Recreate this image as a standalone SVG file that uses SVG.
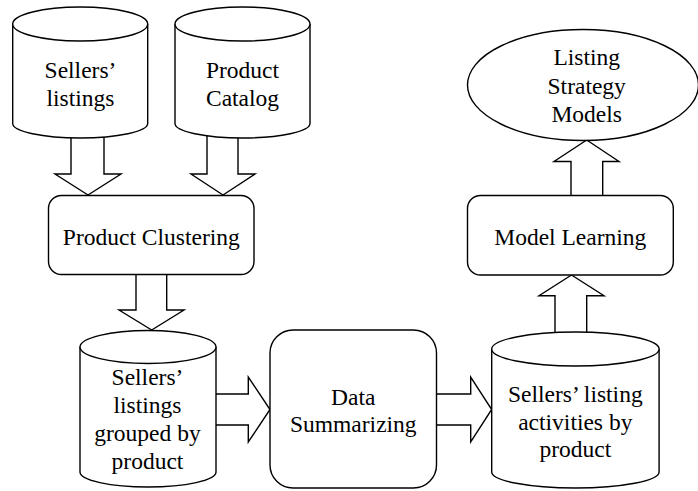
<svg xmlns="http://www.w3.org/2000/svg" width="698" height="491" viewBox="0 0 698 491">
  <style>
    .shape { fill: #ffffff; stroke: #000000; stroke-width: 1.4; stroke-linejoin: miter; }
    .label { font-family: "Liberation Serif", "Times New Roman", serif; font-size: 23.5px; fill: #000000; text-anchor: middle; }
  </style>
  <rect width="698" height="491" fill="#ffffff"/>

  <!-- block arrows between the stages (drawn first so the nodes cover the shaft ends) -->
  <g id="connectors">
    <path class="shape" d="M71,130 V174 H55 L88,195 L121,174 H104 V130"/>
    <path class="shape" d="M207,130 V174 H191 L223,195 L255,174 H238 V130"/>
    <path class="shape" d="M136,270 V310 H119 L151.7,330 L184,310 H166.7 V270"/>
    <path class="shape" d="M208,394 H248.3 V377 L270,409.5 L248.3,442 V425 H208"/>
    <path class="shape" d="M430,394 H470.7 V377 L491.7,409.5 L470.7,442 V425 H430"/>
    <path class="shape" d="M555,340 V295.7 H539 L571.5,275 L604,295.7 H586.7 V340"/>
    <path class="shape" d="M571,200 V161.5 H554 L586.7,140 L619,161.5 H602.7 V200"/>
  </g>

  <g id="sellers-listings">
    <path class="shape" d="M12.7,24 V123.5 A67.5,14.5 0 0 0 147.7,123.5 V24"/>
    <ellipse class="shape" cx="80.2" cy="24" rx="67.5" ry="17"/>
    <text class="label" x="80.5" y="78">Sellers’</text>
    <text class="label" x="80.5" y="106">listings</text>
  </g>

  <g id="product-catalog">
    <path class="shape" d="M175,24 V123.5 A67.5,14.5 0 0 0 310,123.5 V24"/>
    <ellipse class="shape" cx="242.5" cy="24" rx="67.5" ry="17"/>
    <text class="label" x="242.5" y="77.5">Product</text>
    <text class="label" x="242.5" y="106">Catalog</text>
  </g>

  <g id="product-clustering">
    <rect class="shape" x="48.5" y="195.5" width="205.5" height="79" rx="13" ry="13"/>
    <text class="label" x="151.3" y="245">Product Clustering</text>
  </g>

  <g id="grouped-listings">
    <path class="shape" d="M80,347 V472 A68,15 0 0 0 216,472 V347"/>
    <ellipse class="shape" cx="148" cy="347" rx="68" ry="16.5"/>
    <text class="label" x="147.5" y="385">Sellers’</text>
    <text class="label" x="147.5" y="413.3">listings</text>
    <text class="label" x="147.5" y="441">grouped by</text>
    <text class="label" x="147.5" y="468.5">product</text>
  </g>

  <g id="data-summarizing">
    <rect class="shape" x="270" y="330" width="166.5" height="158" rx="23" ry="23"/>
    <text class="label" x="353.3" y="405">Data</text>
    <text class="label" x="353.3" y="432">Summarizing</text>
  </g>

  <g id="listing-activities">
    <path class="shape" d="M491.7,349 V472 A83.7,16 0 0 0 659.1,472 V349"/>
    <ellipse class="shape" cx="575.4" cy="349" rx="83.7" ry="17"/>
    <text class="label" x="575.3" y="401.5">Sellers’ listing</text>
    <text class="label" x="575.3" y="429.5">activities by</text>
    <text class="label" x="575.3" y="457">product</text>
  </g>

  <g id="model-learning">
    <rect class="shape" x="467.5" y="195.5" width="205.8" height="79.5" rx="13" ry="13"/>
    <text class="label" x="570.3" y="245">Model Learning</text>
  </g>

  <g id="strategy-models">
    <ellipse class="shape" cx="583" cy="85" rx="115.5" ry="55.5"/>
    <text class="label" x="586.7" y="65">Listing</text>
    <text class="label" x="586.7" y="94">Strategy</text>
    <text class="label" x="586.7" y="122.3">Models</text>
  </g>
</svg>
